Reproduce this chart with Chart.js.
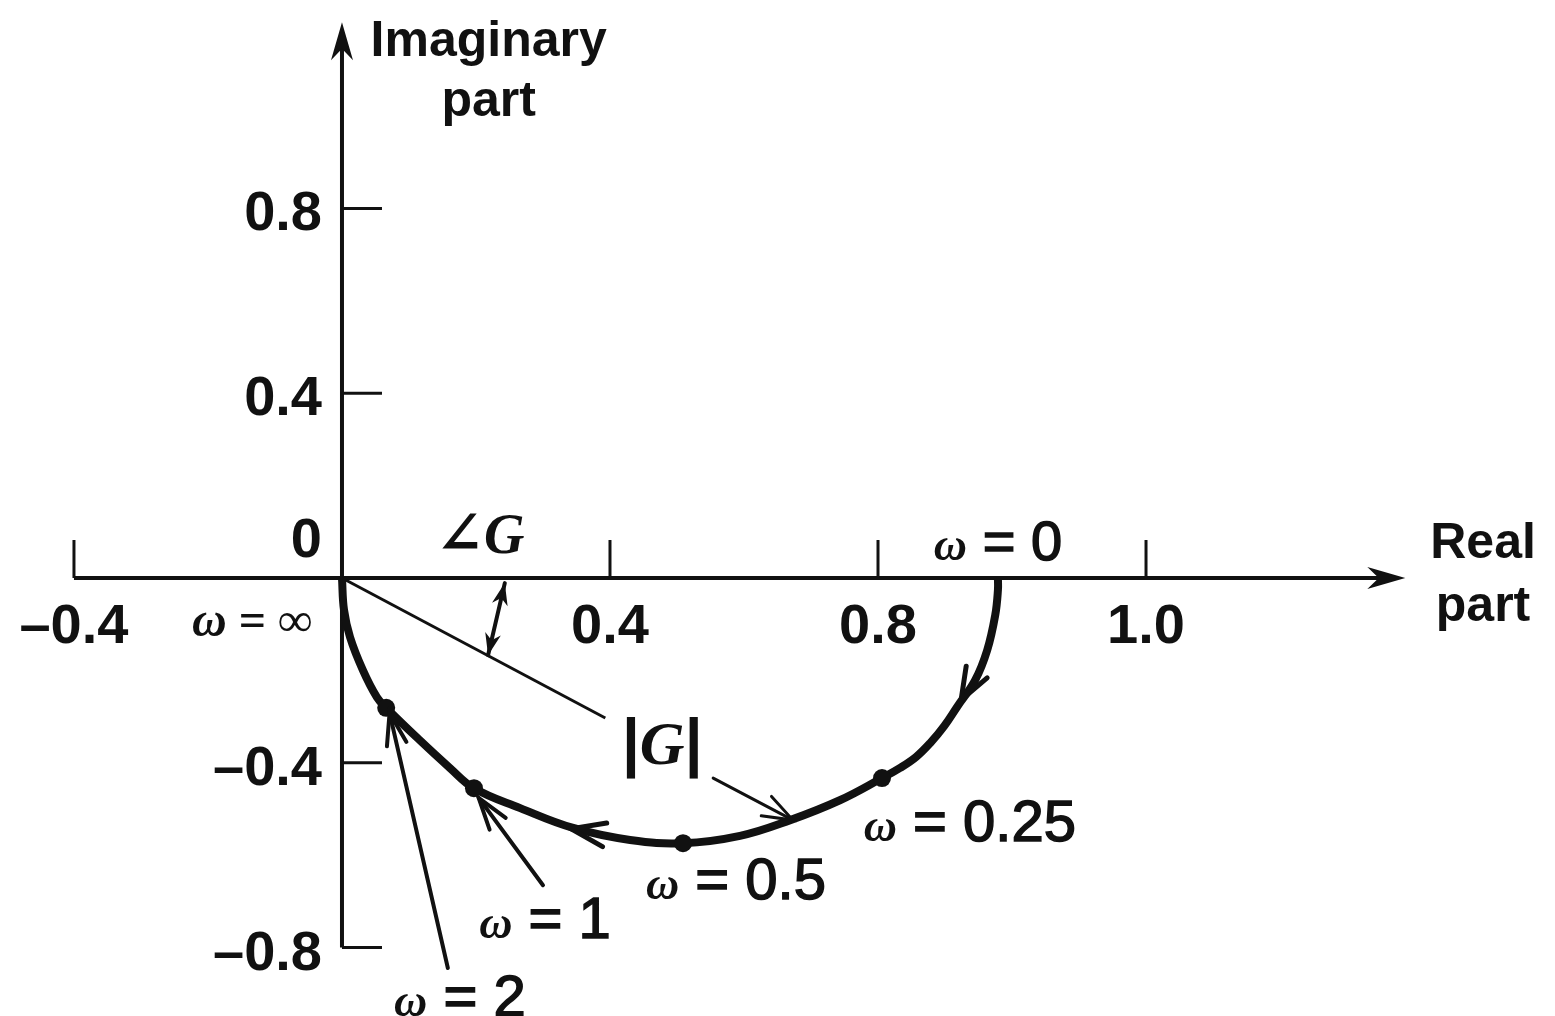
<!DOCTYPE html>
<html>
<head>
<meta charset="utf-8">
<script src="https://cdn.jsdelivr.net/npm/chart.js@4.4.1/dist/chart.umd.min.js"></script>
<style>
  html, body { margin: 0; padding: 0; background: #fff; }
</style>
</head>
<body>
<canvas id="nyquist" width="1555" height="1016"></canvas>
<script>
const INK = "#111";
const SANS = '"Liberation Sans", Arial, sans-serif';
const SERIF = '"Liberation Serif", "DejaVu Serif", serif';

// plane extent (data units)
const X_MIN = -0.5104, X_MAX = 1.8104;
const Y_MIN = -0.948, Y_MAX = 1.2511;

// axis ticks (the book labels its fourth real tick "1.0")
const xTickValues = [-0.4, 0.4, 0.8, 1.2];
const xTickLabels = ["–0.4", "0.4", "0.8", "1.0"];
const yTickValues = [0.8, 0.4, -0.4, -0.8];
const yTickLabels = ["0.8", "0.4", "–0.4", "–0.8"];

// locus of G(jω), from ω = 0 to ω = ∞
const curveRe = [0.979, 0.979, 0.975, 0.963, 0.945, 0.918, 0.899, 0.878, 0.857, 0.833, 0.806, 0.743, 0.669, 0.594, 0.509,
                 0.430, 0.345, 0.266, 0.197, 0.161, 0.116, 0.066, 0.052, 0.031, 0.012, 0.003, 0];
const curveIm = [0, -0.026, -0.080, -0.156, -0.221, -0.279, -0.320, -0.357, -0.387, -0.411, -0.433, -0.481, -0.524, -0.558, -0.574,
                 -0.567, -0.541, -0.498, -0.455, -0.411, -0.351, -0.281, -0.258, -0.199, -0.128, -0.069, 0];

// marked frequencies
const omegaValues = ["0.25", "0.5", "1", "2"];
const omegaRe = [0.806, 0.509, 0.197, 0.066];
const omegaIm = [-0.433, -0.574, -0.455, -0.281];

// |G| radius line
const magRe = [0, 0.393];
const magIm = [0, -0.303];

const toPoints = (xs, ys) => xs.map((v, i) => ({ x: v, y: ys[i] }));

function line(ctx, x1, y1, x2, y2) {
  ctx.beginPath();
  ctx.moveTo(x1, y1);
  ctx.lineTo(x2, y2);
  ctx.stroke();
}

function arrowHead(ctx, tx, ty, fx, fy, len, half, filled) {
  const a = Math.atan2(ty - fy, tx - fx);
  const ux = Math.cos(a), uy = Math.sin(a);
  const nx = -uy, ny = ux;
  const b1x = tx - len * ux + half * nx, b1y = ty - len * uy + half * ny;
  const b2x = tx - len * ux - half * nx, b2y = ty - len * uy - half * ny;
  ctx.beginPath();
  if (filled) {
    ctx.moveTo(tx, ty);
    ctx.lineTo(b1x, b1y);
    ctx.lineTo(tx - len * 0.7 * ux, ty - len * 0.7 * uy);
    ctx.lineTo(b2x, b2y);
    ctx.closePath();
    ctx.fill();
  } else {
    ctx.moveTo(b1x, b1y);
    ctx.lineTo(tx, ty);
    ctx.lineTo(b2x, b2y);
    ctx.stroke();
  }
}

// draws a row of [text, font, strokeWidth] pieces centred on cx
function drawRuns(ctx, runs, cx, baseY) {
  let total = 0;
  runs.forEach((r) => { ctx.font = r[1]; r.w = ctx.measureText(r[0]).width; total += r.w; });
  let x = cx - total / 2;
  runs.forEach((r) => {
    ctx.font = r[1];
    ctx.fillText(r[0], x, baseY);
    if (r[2]) { ctx.lineWidth = r[2]; ctx.strokeText(r[0], x, baseY); }
    x += r.w;
  });
}

const OMEGA = `bold italic 46px ${SERIF}`;
const NUM = `56px ${SANS}`;
const AXNUM = `bold 56px ${SANS}`;
const WORD = `bold 50px ${SANS}`;

const sketchPlugin = {
  id: "sketch",
  beforeDatasetsDraw(chart) {
    const { ctx, scales: { x, y } } = chart;
    const X = (v) => x.getPixelForValue(v);
    const Y = (v) => y.getPixelForValue(v);
    ctx.save();
    ctx.strokeStyle = INK;
    ctx.fillStyle = INK;

    // axes
    ctx.lineWidth = 4;
    line(ctx, X(-0.4), Y(0), X(1.55), Y(0));
    arrowHead(ctx, X(1.587), Y(0), X(1.3), Y(0), 38, 11, true);
    line(ctx, X(0), Y(-0.8), X(0), Y(1.15));
    arrowHead(ctx, X(0), Y(1.203), X(0), Y(0.9), 38, 11, true);

    // ticks
    ctx.lineWidth = 3;
    xTickValues.forEach((v) => line(ctx, X(v), Y(0), X(v), Y(0) - 38));
    yTickValues.forEach((v) => line(ctx, X(0), Y(v), X(0) + 40, Y(v)));

    // tick labels
    ctx.textBaseline = "alphabetic";
    ctx.font = AXNUM;
    ctx.textAlign = "center";
    xTickValues.forEach((v, i) => ctx.fillText(xTickLabels[i], X(v), Y(0) + 45 + 20));
    ctx.textAlign = "right";
    yTickValues.forEach((v, i) => ctx.fillText(yTickLabels[i], X(0) - 20, Y(v) + 22));
    ctx.fillText("0", X(0) - 20, Y(0) - 41 + 20);
    ctx.restore();
  },
  afterDatasetsDraw(chart) {
    const { ctx, scales: { x, y } } = chart;
    const X = (v) => x.getPixelForValue(v);
    const Y = (v) => y.getPixelForValue(v);
    ctx.save();
    ctx.strokeStyle = INK;
    ctx.fillStyle = INK;
    ctx.lineCap = "round";

    // direction arrows on the locus
    ctx.lineWidth = 5;
    arrowHead(ctx, X(0.924), Y(-0.264), X(0.949), Y(-0.199), 32, 12, false);
    arrowHead(ctx, X(0.342), Y(-0.543), X(0.400), Y(-0.558), 34, 12, false);

    // pointer arrows
    ctx.lineWidth = 3;
    line(ctx, X(0.554), Y(-0.433), X(0.673), Y(-0.524));
    arrowHead(ctx, X(0.673), Y(-0.524), X(0.554), Y(-0.433), 30, 11, false);
    ctx.lineWidth = 4;
    line(ctx, X(0.300), Y(-0.665), X(0.204), Y(-0.476));
    arrowHead(ctx, X(0.204), Y(-0.476), X(0.300), Y(-0.665), 32, 10, false);
    line(ctx, X(0.158), Y(-0.844), X(0.071), Y(-0.292));
    arrowHead(ctx, X(0.071), Y(-0.292), X(0.158), Y(-0.844), 32, 10, false);

    // angle arrow
    ctx.lineWidth = 4;
    line(ctx, X(0.243), Y(-0.011), X(0.218), Y(-0.167));
    arrowHead(ctx, X(0.243), Y(-0.011), X(0.218), Y(-0.167), 22, 8, true);
    arrowHead(ctx, X(0.218), Y(-0.167), X(0.243), Y(-0.011), 22, 8, true);

    // text
    ctx.textAlign = "left";
    ctx.textBaseline = "alphabetic";
    drawRuns(ctx, [["Imaginary", WORD]], X(0.219), Y(1.169) + 18);
    drawRuns(ctx, [["part", WORD]], X(0.219), Y(1.039) + 18);
    drawRuns(ctx, [["Real", WORD]], X(1.703), Y(0.082) + 18);
    drawRuns(ctx, [["part", WORD]], X(1.703), Y(-0.054) + 18);
    drawRuns(ctx, [["ω", `bold italic 48px ${SERIF}`], [" = ∞", `bold 48px ${SERIF}`]], X(-0.134), Y(-0.091) + 16);
    drawRuns(ctx, [["∠", `bold 58px ${SERIF}`], ["G", `bold italic 56px ${SERIF}`]], X(0.206), Y(0.097) + 20);
    drawRuns(ctx, [["ω", OMEGA], [" = 0", NUM, 1.5]], X(0.979), Y(0.082) + 20);
    drawRuns(ctx, [["|", `bold 64px ${SANS}`], ["G", `bold italic 62px ${SERIF}`], ["|", `bold 64px ${SANS}`]],
      X(0.478), Y(-0.355) + 22);
    const omegaPos = [[0.937, -0.524], [0.588, -0.649], [0.303, -0.734], [0.176, -0.903]];
    omegaValues.forEach((w, i) => {
      drawRuns(ctx, [["ω", OMEGA], [" = " + w, `58px ${SANS}`, 1.5]], X(omegaPos[i][0]), Y(omegaPos[i][1]) + 21);
    });
    ctx.restore();
  },
};

new Chart(document.getElementById("nyquist"), {
  type: "scatter",
  data: {
    datasets: [
      {
        label: "G(jω)",
        data: toPoints(curveRe, curveIm),
        showLine: true,
        borderColor: INK,
        borderWidth: 8,
        pointRadius: 0,
        tension: 0.4,
        order: 2,
      },
      {
        label: "|G|",
        data: toPoints(magRe, magIm),
        showLine: true,
        borderColor: INK,
        borderWidth: 3,
        pointRadius: 0,
        order: 3,
      },
      {
        label: "ω marks",
        data: toPoints(omegaRe, omegaIm),
        pointRadius: 9,
        backgroundColor: INK,
        borderWidth: 0,
        order: 1,
      },
    ],
  },
  options: {
    responsive: false,
    animation: false,
    layout: { padding: 0, autoPadding: false },
    plugins: { legend: { display: false }, tooltip: { enabled: false } },
    scales: {
      x: { type: "linear", min: X_MIN, max: X_MAX, display: false },
      y: { type: "linear", min: Y_MIN, max: Y_MAX, display: false },
    },
  },
  plugins: [sketchPlugin],
});
</script>
</body>
</html>
